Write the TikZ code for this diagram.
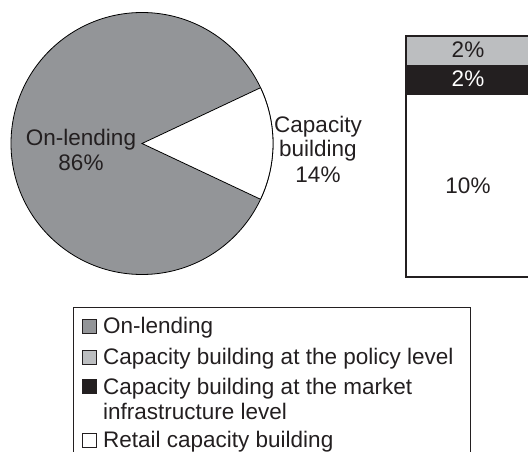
\documentclass[tikz,border=0pt]{standalone}
\usepackage{fontspec}
\setmainfont{Liberation Sans}
\definecolor{piegray}{HTML}{939598}
\definecolor{lightgray}{HTML}{BCBEC0}
\definecolor{inkblack}{HTML}{231F20}

\begin{document}
\begin{tikzpicture}[x=1pt,y=-1pt,
    lbl/.style={font=\fontsize{22.5}{25}\selectfont, text=inkblack,
        align=center, inner sep=0pt, anchor=base},
    key/.style={draw=inkblack, line width=.8pt}]

	\useasboundingbox (0,0) rectangle (528,452);
	\clip (0,0) rectangle (528,452);

	% pie
	\draw[fill=piegray, line width=.8pt] (142,143.5) circle(131pt);
	\draw[fill=white, line width=.8pt] (142,143.5) -- ++(25.2:131pt)
        arc (25.2:-25.2:131pt) -- cycle;
	\node[lbl] (lend) at (81,170) {On-lending\\86\%};
	\node[lbl] (capb) at (318,182) {Capacity\\building\\14\%};

	% bar
	\fill[lightgray] (406,36) rectangle (531,65);
	\fill[inkblack] (406,65) rectangle (531,95);
	\draw[line width=1.2pt, draw=inkblack] (406,36) rectangle (531,277);
	\node[lbl] (pol) at (468,58) {2\%};
	\node[lbl, text=white] (mkt) at (468,87) {2\%};
	\node[lbl] (ret) at (468,193) {10\%};

	% legend
	\draw[line width=1pt, draw=inkblack] (73,307.5) rectangle (470,475);
	\draw[key, fill=piegray] (82.5,319) rectangle (96.5,333);
	\draw[key, fill=lightgray] (82.5,350) rectangle (96.5,364);
	\draw[key, fill=inkblack] (82.5,379) rectangle (96.5,393);
	\draw[key, fill=white] (82.5,433) rectangle (96.5,447);
	\node[lbl, anchor=base west] (klend) at (103,333) {On-lending};
	\node[lbl, anchor=base west] (kpol) at (103,364)
        {Capacity building at the policy level};
	\node[lbl, anchor=base west, align=left] (kmkt) at (103,419)
        {Capacity building at the market\\infrastructure level};
	\node[lbl, anchor=base west] (kret) at (103,447)
        {Retail capacity building};
\end{tikzpicture}
\end{document}
